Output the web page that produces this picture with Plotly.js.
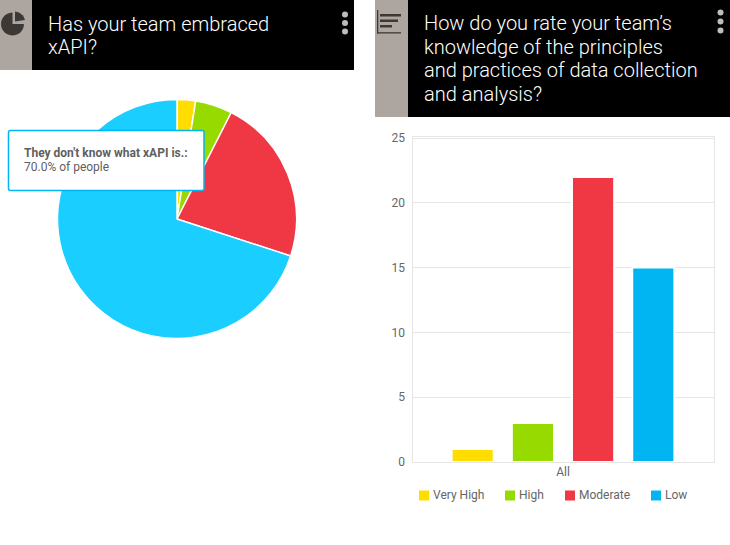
<!DOCTYPE html>
<html>
<head>
<meta charset="utf-8">
<script src="https://cdn.plot.ly/plotly-3.0.1.min.js"></script>
<style>
    html, body { margin: 0; padding: 0; background: #fff; }
    #chart { width: 730px; height: 545px; }
</style>
</head>
<body>
<div id="chart"></div>
<script>
    const W = 730, H = 545;

    //pie data, 40 people answered
    const sliceLabels = ['Option 1', 'Option 2', 'Option 3', "They don't know what xAPI is."];
    const sliceValues = [1, 2, 9, 28];
    const sliceColors = ['#FFDD00', '#96DA00', '#F03845', '#1ACFFF'];

    //bar data
    const barGroup = ['All'];
    const barNames = ['Very High', 'High', 'Moderate', 'Low'];
    const barValues = [1, 3, 22, 15];
    const barColors = ['#FFDD00', '#96DA00', '#F03845', '#00B5F2'];
    const yTicks = [0, 5, 10, 15, 20, 25];

    const pieTitle = ['Has your team embraced', 'xAPI?'];
    const barTitle = ['How do you rate your team’s', 'knowledge of the principles', 'and practices of data collection', 'and analysis?'];
    const tipLines = ["<b>They don't know what xAPI is.:</b>", '70.0% of people'];

    //layout helpers, pixel to paper
    const px = x => x / W;
    const py = y => 1 - y / H;
    const pt = (x, y) => px(x) + ',' + py(y);

    function rect(x0, y0, x1, y1, color) {
        return { type: 'rect', xref: 'paper', yref: 'paper', x0: px(x0), x1: px(x1), y0: py(y0), y1: py(y1),
            fillcolor: color, line: { width: 0 } };
    }
    function dot(x, y, r, color) {
        return { type: 'circle', xref: 'paper', yref: 'paper', x0: px(x - r), x1: px(x + r), y0: py(y - r), y1: py(y + r),
            fillcolor: color, line: { width: 0 } };
    }
    function pathShape(d, fill, line) {
        return { type: 'path', xref: 'paper', yref: 'paper', path: d, fillcolor: fill, line: line || { width: 0 } };
    }
    function label(x, y, text, size, color, weight) {
        return { xref: 'paper', yref: 'paper', x: px(x), y: py(y), text: text, showarrow: false,
            xanchor: 'left', yanchor: 'middle', align: 'left',
            font: { family: 'Roboto, sans-serif', size: size, color: color, weight: weight || 400 } };
    }

    //the pie icon, three quarter circle and a small wedge
    const iconColor = '#3B3835';
    let piePath = 'M' + pt(12.5, 24);
    for (let a = 0; a <= 270; a += 15) {
        let r = a * Math.PI / 180;
        piePath += ' L' + pt(12.5 - 11.5 * Math.sin(r), 24 - 11.5 * Math.cos(r));
    }
    piePath += ' Z';
    const wedgePath = 'M' + pt(15, 21.5) + ' L' + pt(15, 11.5) + ' L' + pt(19, 12.5) + ' L' + pt(23, 15.5) + ' L' + pt(25, 20) + ' Z';

    //rounded tooltip box
    const tipBox = 'M' + pt(10.5, 130.5) + ' L' + pt(202, 130.5) + ' Q' + pt(204, 130.5) + ' ' + pt(204, 132.5) +
        ' L' + pt(204, 188.5) + ' Q' + pt(204, 190.5) + ' ' + pt(202, 190.5) +
        ' L' + pt(10.5, 190.5) + ' Q' + pt(8.5, 190.5) + ' ' + pt(8.5, 188.5) +
        ' L' + pt(8.5, 132.5) + ' Q' + pt(8.5, 130.5) + ' ' + pt(10.5, 130.5) + ' Z';

    let shapes = [
        rect(0, 0, 32, 70, '#ADA59F'),
        rect(32, 0, 354, 70, '#000000'),
        rect(375, 0, 408, 117, '#ADA59F'),
        rect(408, 0, 730, 117, '#000000'),
        pathShape(piePath, iconColor),
        pathShape(wedgePath, iconColor),
        rect(377, 10, 378.3, 33.5, iconColor),
        rect(377, 32.2, 401, 33.5, iconColor),
        rect(380, 14, 401, 16.5, iconColor),
        rect(380, 19.5, 398, 22, iconColor),
        rect(380, 25, 392, 27.5, iconColor),
        dot(345, 14.5, 3, '#BDBDBD'), dot(345, 23, 3, '#BDBDBD'), dot(345, 31.5, 3, '#BDBDBD'),
        dot(720.5, 12.5, 3, '#BDBDBD'), dot(720.5, 21.5, 3, '#BDBDBD'), dot(720.5, 30.5, 3, '#BDBDBD'),
        pathShape(tipBox, '#FFFFFF', { color: '#00B5F2', width: 1.5 })
    ];

    let annotations = [];
    pieTitle.forEach((t, i) => annotations.push(label(46, 23.5 + i * 23.5, t, 20, '#FFFFFF', 300)));
    barTitle.forEach((t, i) => annotations.push(label(422, 23 + i * 23.7, t, 20, '#FFFFFF', 300)));
    tipLines.forEach((t, i) => annotations.push(label(22, 152.5 + i * 14.5, t, 12, '#5F5F5F')));

    //legend row under the bars
    const legendX = [419, 505, 565, 651];
    barNames.forEach((name, i) => {
        shapes.push(rect(legendX[i], 490.5, legendX[i] + 10, 500.5, barColors[i]));
        annotations.push(label(legendX[i] + 12, 495, name, 12, '#666666'));
    });

    let graphData = [
        {
            type: 'pie',
            labels: sliceLabels,
            values: sliceValues,
            sort: false,
            direction: 'clockwise',
            rotation: 0,
            textinfo: 'none',
            hoverinfo: 'none',
            marker: { colors: sliceColors, line: { color: '#FFFFFF', width: 1.5 } },
            domain: { x: [px(57.5), px(296.5)], y: [py(338.5), py(99.5)] },
            showlegend: false
        }
    ];

    barNames.forEach((name, i) => {
        graphData.push({
            type: 'bar',
            name: name,
            x: barGroup,
            y: [barValues[i]],
            cliponaxis: false,
            hoverinfo: 'none',
            marker: { color: barColors[i], line: { color: '#FFFFFF', width: 2 } }
        });
    });

    let layout = {
        width: W,
        height: H,
        margin: { l: 0, r: 0, t: 0, b: 0 },
        paper_bgcolor: '#FFFFFF',
        plot_bgcolor: '#FFFFFF',
        showlegend: false,
        barmode: 'group',
        bargap: 0.2,
        bargroupgap: 0.3,
        font: { family: 'Roboto, sans-serif', size: 11, color: '#666666' },
        xaxis: {
            domain: [px(412.5), px(713.5)],
            type: 'category',
            showgrid: false,
            showline: true,
            mirror: true,
            linecolor: '#E6E6E6',
            linewidth: 1,
            layer: 'below traces',
            ticks: '',
            ticklen: 0,
            ticklabelstandoff: -1,
            tickfont: { family: 'Roboto, sans-serif', size: 12, color: '#666666' }
        },
        yaxis: {
            //small headroom above 25, the frame sits a little over the top gridline
            domain: [py(462), py(136.7)],
            range: [0, 25.1],
            tickvals: yTicks,
            showgrid: true,
            gridcolor: '#E6E6E6',
            zeroline: false,
            showline: true,
            mirror: true,
            linecolor: '#E6E6E6',
            linewidth: 1,
            layer: 'below traces',
            ticks: '',
            ticklabelstandoff: 4,
            tickfont: { family: 'Roboto, sans-serif', size: 12, color: '#666666' }
        },
        shapes: shapes,
        annotations: annotations
    };

    let options = {
        responsive: false,
        displayModeBar: false,
        staticPlot: true
    };

    Plotly.newPlot('chart', graphData, layout, options);
</script>
</body>
</html>
